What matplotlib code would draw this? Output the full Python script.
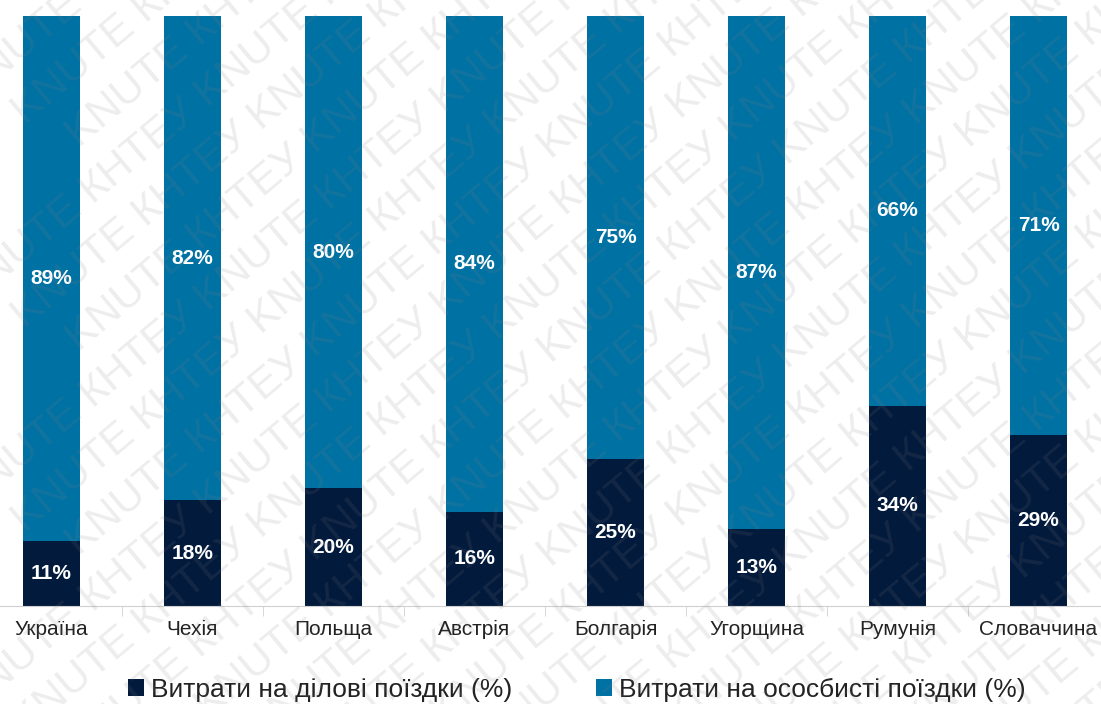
import matplotlib
matplotlib.use("Agg")
import matplotlib.pyplot as plt
import numpy as np
from matplotlib.patches import Patch

plt.rcParams['font.family'] = ['Liberation Sans', 'DejaVu Sans']

categories = ["Україна", "Чехія", "Польща", "Австрія", "Болгарія", "Угорщина", "Румунія", "Словаччина"]
business = [11, 18, 20, 16, 25, 13, 34, 29]
personal = [89, 82, 80, 84, 75, 87, 66, 71]
series_names = ["Витрати на ділові поїздки (%)", "Витрати на ососбисті поїздки (%)"]

c_dark = "#021a3c"
c_blue = "#0071a3"

fig = plt.figure(figsize=(11.01, 7.04), dpi=100)
ax = fig.add_axes([0, 0.139, 1, 0.838])

x = np.arange(len(categories))
w = 0.404
ax.bar(x, business, width=w, color=c_dark, zorder=2)
ax.bar(x, personal, width=w, bottom=business, color=c_blue, zorder=2)

for i in range(len(x)):
    ax.text(x[i], business[i] / 2, f"{business[i]}%", ha='center', va='center',
            color='white', fontsize=15, fontweight='bold', zorder=3)
    ax.text(x[i], business[i] + personal[i] / 2, f"{personal[i]}%", ha='center', va='center',
            color='white', fontsize=15, fontweight='bold', zorder=3)

ax.set_yticks([])
for s in ['top', 'left', 'right']:
    ax.spines[s].set_visible(False)
ax.spines['bottom'].set_color('#d0d0d0')
ax.set_xticks(x)
ax.set_xticklabels(categories, fontsize=15, color='#222222')
ax.tick_params(axis='x', which='major', length=0, pad=10)
ax.set_xticks(np.arange(-0.5, 8, 1), minor=True)
ax.tick_params(axis='x', which='minor', length=7, color='#d0d0d0')
ax.set_xlim(-0.365, 7.443)
ax.set_ylim(0, 100)

handles = [Patch(facecolor=c_dark), Patch(facecolor=c_blue)]
fig.legend(handles, series_names, loc='center', bbox_to_anchor=(0.524, 0.02),
           ncol=2, frameon=False, fontsize=19, handlelength=0.6, handleheight=0.6,
           handletextpad=0.25, columnspacing=3.2, labelcolor='#222222')

# watermark: diagonal rows of repeated text
wm = " ".join(["KNUTE КНТЕУ"] * 5)
W, H = 1101, 704
ang = np.deg2rad(40)
for k in range(-9, 20):
    shift = (k % 3) * 70
    cx_px = 550 + shift * np.cos(ang)
    cy_px = 350 + (k - 5) * 68 - shift * np.sin(ang)
    fig.text(cx_px / W, 1 - cy_px / H, wm, fontsize=31, color='#808080', alpha=0.14,
             rotation=40, ha='center', va='center', zorder=10,
             rotation_mode='anchor')

fig.savefig("out.png", dpi=100)
